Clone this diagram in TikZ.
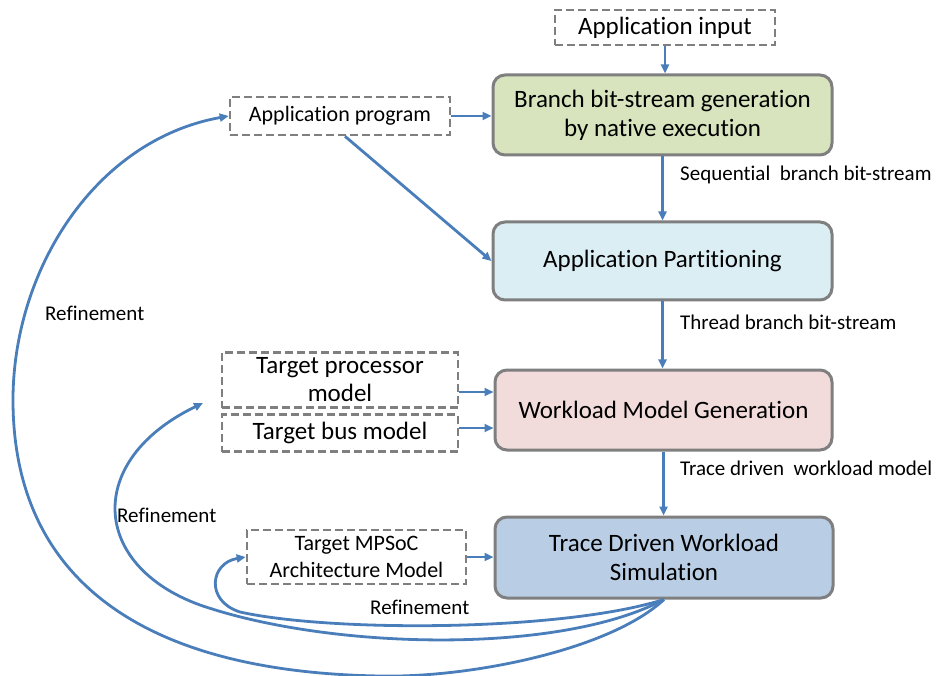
\documentclass[tikz,border=0pt]{standalone}
\usepackage{fontspec}
\setmainfont{Carlito}[Ligatures=NoCommon]
\usetikzlibrary{arrows.meta}
\definecolor{lblue}{HTML}{4A7EBB}
\definecolor{bgray}{HTML}{7F7F7F}
\definecolor{fgreen}{HTML}{D7E4BD}
\definecolor{fcyan}{HTML}{DBEEF4}
\definecolor{fpink}{HTML}{F2DCDB}
\definecolor{fblue}{HTML}{B9CDE5}
\tikzset{
  mainbox/.style={draw=bgray, line width=3pt, rounded corners=12pt, inner sep=0pt, align=center,
    font=\fontsize{25}{29}\selectfont},
  dbox/.style={draw=bgray, line width=2.6pt, dash pattern=on 8pt off 4pt, inner sep=0pt, align=center, fill=white},
  conn/.style={draw=lblue, line width=2.8pt, -{Triangle[length=9pt,width=8pt]}},
  lbl/.style={anchor=west, inner sep=0pt, font=\fontsize{21}{25}\selectfont}
}
\begin{document}
\begin{tikzpicture}[x=1pt,y=-1pt]
\useasboundingbox (0,0) rectangle (948,676);
% main boxes
\node[mainbox, fill=fgreen, minimum width=339pt, minimum height=80pt] (branch) at (662.5,115) {Branch bit-stream generation\\by native execution};
\node[mainbox, fill=fcyan, minimum width=339pt, minimum height=78pt] (part) at (662.5,261) {Application Partitioning};
\node[mainbox, fill=fpink, minimum width=337pt, minimum height=80pt] (wl) at (663.5,410) {Workload Model Generation};
\node[mainbox, fill=fblue, minimum width=338pt, minimum height=81pt] (sim) at (664,557.5) {Trace Driven Workload\\Simulation};
% dashed boxes
\node[dbox, minimum width=220pt, minimum height=35pt, font=\fontsize{25}{29}\selectfont] (ain) at (665,27.5) {Application input};
\node[dbox, minimum width=220pt, minimum height=38pt, font=\fontsize{22}{26}\selectfont] (aprog) at (340,116) {Application program};
\node[dbox, minimum width=236pt, minimum height=55pt, font=\fontsize{25}{28}\selectfont] (tproc) at (340,380) {Target processor\\model};
\node[dbox, minimum width=236pt, minimum height=37pt, font=\fontsize{25}{28}\selectfont] (tbus) at (340,433) {Target bus model};
\node[dbox, minimum width=219pt, minimum height=54pt, font=\fontsize{22}{27}\selectfont] (mpsoc) at (356.5,557) {Target MPSoC\\Architecture Model};
% labels
\node[lbl] (l1) at (680,175) {Sequential\ \ branch bit-stream};
\node[lbl] (l2) at (680,322) {Thread branch bit-stream};
\node[lbl] (l3) at (680,468) {Trace driven\ \ workload model};
\node[lbl] (r1) at (45,313) {Refinement};
\node[lbl] (r2) at (117,515) {Refinement};
\node[lbl] (r3) at (370,607) {Refinement};
% straight connectors
\draw[conn] (ain.south) -- (ain.south |- branch.north);
\draw[conn] (branch.south) -- (branch.south |- part.north);
\draw[conn] (part.south) -- (part.south |- wl.north);
\draw[conn] (wl.south) -- (wl.south |- sim.north);
\draw[conn] (aprog.east) -- (aprog.east -| branch.west);
\draw[conn] ([xshift=5pt]aprog.south) -- (part.west);
\draw[conn] ([yshift=-12pt]tproc.east) -- ([yshift=-12pt]tproc.east -| wl.west);
\draw[conn] ([yshift=5pt]tbus.east) -- ([yshift=5pt]tbus.east -| wl.west);
\draw[conn] (mpsoc.east) -- (mpsoc.east -| sim.west);
% refinement curves
\coordinate (tp) at (203,403);
\draw[conn] (sim.south) .. controls (560,632) and (330,632) .. (240,612)
  .. controls (205,601) and (210,563) .. (mpsoc.west);
\draw[conn] (sim.south) .. controls (560,655) and (330,650) .. (200,605)
  .. controls (90,565) and (85,460) .. (tp);
\draw[conn] (sim.south) .. controls (610,650) and (470,678) .. (380,676)
  .. controls (130,672) and (13,570) .. (13,400)
  .. controls (13,270) and (95,140) .. (aprog.west);
\end{tikzpicture}
\end{document}
